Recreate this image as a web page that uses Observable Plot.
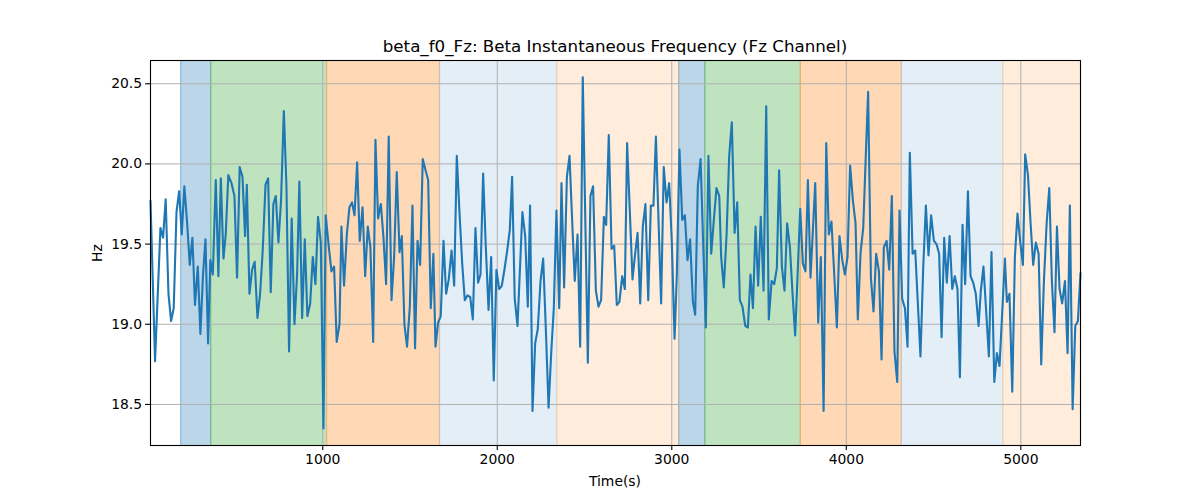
<!DOCTYPE html>
<html><head><meta charset="utf-8">
<script src="https://cdn.jsdelivr.net/npm/d3@7"></script>
<script src="https://cdn.jsdelivr.net/npm/@observablehq/plot@0.6"></script>
<style>
body{margin:0;background:#fff;}
#fig{position:relative;width:1200px;height:500px;background:#fff;font-family:"DejaVu Sans",sans-serif;color:#000;overflow:hidden;}
#title{position:absolute;left:0;width:1230px;top:36px;text-align:center;font-size:16.7px;line-height:20px;}
#xlabel{position:absolute;left:0;width:1230px;top:472px;text-align:center;font-size:13.9px;line-height:18px;}
#ylabel{position:absolute;left:97px;top:253px;font-size:13.9px;line-height:18px;transform:translate(-50%,-50%) rotate(-90deg);white-space:nowrap;}
#chart{position:absolute;left:0;top:35px;}
</style></head><body>
<div id="fig">
<div id="title">beta_f0_Fz: Beta Instantaneous Frequency (Fz Channel)</div>
<div id="chart"></div>
<div id="xlabel">Time(s)</div>
<div id="ylabel">Hz</div>
</div>
<script>
// Time (s) of each sample
const timeSec = [
  13, 39, 70, 85, 100, 116, 131, 146, 162, 177, 192, 207, 223, 238, 253, 268, 284, 299, 314, 328, 343, 356, 370, 387, 402, 416, 431, 444, 459, 477, 494, 509, 524, 540, 555,
  565, 580, 595, 610, 626, 641, 656, 672, 687, 702, 717, 731, 746, 761, 777, 792, 807, 822, 838, 853, 866, 882, 897, 912, 928, 943, 958, 973, 989, 1004, 1017, 1035, 1050, 1065, 1080, 1096,
  1107, 1122, 1138, 1153, 1168, 1182, 1197, 1212, 1228, 1243, 1258, 1273, 1289, 1302, 1317, 1333, 1348, 1363, 1378, 1394, 1409, 1424, 1440, 1453, 1468, 1483, 1499, 1514, 1529, 1543, 1558, 1573, 1589, 1604, 1619, 1634, 1646,
  1661, 1676, 1692, 1707, 1722, 1738, 1753, 1768, 1783, 1799, 1814, 1829, 1845, 1860, 1875, 1890, 1904, 1919, 1934, 1950, 1965, 1980, 1995, 2011, 2026, 2041, 2057, 2072, 2085, 2100, 2116, 2144, 2160, 2175, 2188,
  2202, 2217, 2232, 2248, 2263, 2278, 2294, 2309, 2324, 2339, 2355, 2368, 2383, 2399, 2414, 2429, 2444, 2460, 2475, 2490, 2519, 2534, 2549, 2565, 2580, 2595, 2611, 2624, 2639, 2655, 2670, 2685, 2700, 2716, 2731,
  2744, 2775, 2790, 2804, 2819, 2834, 2849, 2865, 2880, 2895, 2909, 2939, 2954, 2970, 2985, 3000, 3016, 3029, 3044, 3060, 3075, 3090, 3105, 3121, 3134, 3149, 3165, 3195, 3210, 3226, 3241, 3256, 3272,
  3283, 3298, 3314, 3329, 3344, 3360, 3375, 3390, 3405, 3421, 3436, 3451, 3465, 3480, 3495, 3510, 3526, 3541, 3556, 3572, 3587, 3602, 3615, 3631, 3646, 3661, 3677, 3692, 3707, 3736, 3751, 3766, 3780, 3795, 3822,
  3839, 3854, 3870, 3885, 3900, 3915, 3931, 3946, 3961, 3977, 3992, 4007, 4022, 4038, 4053, 4066, 4082, 4097, 4112, 4125, 4141, 4156, 4171, 4187, 4202, 4215, 4231, 4246, 4261, 4276, 4292, 4305, 4320, 4336, 4351, 4364,
  4380, 4395, 4410, 4425, 4441, 4456, 4471, 4486, 4502, 4517, 4532, 4546, 4561, 4576, 4592, 4607, 4622, 4637, 4651, 4666, 4681, 4697, 4712, 4727, 4742, 4758, 4771, 4786, 4817, 4832, 4848, 4863, 4878, 4909,
  4920, 4935, 4951, 4966, 4981, 4997, 5012, 5025, 5041, 5056, 5071, 5086, 5102, 5117, 5132, 5148, 5163, 5178, 5193, 5207, 5222, 5237, 5253, 5268, 5281, 5297, 5312, 5327, 5342
];
// Beta instantaneous frequency (Hz)
const freqHz = [
  19.77, 18.77, 19.60, 19.54, 19.78, 19.19, 19.02, 19.10, 19.70, 19.83, 19.56, 19.86, 19.63, 19.37, 19.54, 19.12, 19.36, 18.94, 19.31, 19.53, 18.88, 19.40, 19.31, 19.90, 19.30, 19.91, 19.41, 19.56, 19.93, 19.88, 19.80, 19.29, 19.98, 19.92, 19.55,
  19.87, 19.19, 19.34, 19.39, 19.04, 19.19, 19.46, 19.87, 19.91, 19.20, 19.75, 19.80, 19.51, 19.77, 20.33, 19.86, 18.83, 19.66, 19.00, 19.31, 19.89, 19.04, 19.53, 19.05, 19.13, 19.42, 19.25, 19.67, 19.51, 18.35, 19.68, 19.48, 19.33, 19.36, 18.89, 19.00,
  19.61, 19.24, 19.56, 19.73, 19.76, 19.68, 20.01, 19.52, 19.73, 19.30, 19.61, 19.48, 18.89, 20.15, 19.66, 19.75, 19.54, 19.25, 20.17, 19.15, 19.42, 19.95, 19.45, 19.55, 19.00, 18.86, 19.11, 19.74, 18.85, 19.52, 19.37, 20.03, 19.96, 19.90, 19.10, 19.44, 18.86,
  19.01, 19.05, 19.52, 19.19, 19.28, 19.46, 19.24, 20.05, 19.71, 19.38, 19.15, 19.18, 19.17, 19.03, 19.60, 19.26, 19.31, 19.94, 19.49, 19.09, 19.42, 18.65, 19.34, 19.22, 19.24, 19.34, 19.46, 19.59, 19.92, 19.16, 18.99, 19.70, 19.55, 19.11, 19.74,
  18.46, 18.88, 18.97, 19.27, 19.41, 18.98, 18.48, 18.82, 19.10, 19.71, 19.10, 19.88, 19.23, 19.92, 20.05, 19.65, 19.27, 19.56, 18.86, 20.54, 18.76, 19.80, 19.86, 19.21, 19.11, 19.15, 19.67, 19.62, 20.18, 19.47, 19.49, 19.12, 19.14, 19.30, 19.22,
  20.13, 19.28, 19.44, 19.57, 19.13, 19.61, 19.75, 19.15, 19.74, 19.74, 20.17, 19.13, 19.98, 19.76, 19.88, 19.52, 18.91, 19.31, 20.09, 19.65, 19.68, 19.40, 19.53, 19.14, 19.06, 19.86, 20.03, 18.98, 20.05, 19.44, 19.65, 19.85, 19.80,
  19.42, 19.23, 19.56, 20.05, 20.26, 19.57, 19.76, 19.15, 19.11, 18.99, 18.98, 19.31, 19.10, 19.61, 19.24, 19.67, 19.21, 20.36, 19.03, 19.27, 19.25, 19.35, 19.96, 19.36, 19.21, 19.63, 19.48, 19.19, 18.93, 19.72, 19.38, 19.33, 19.90, 19.29, 19.88,
  19.01, 19.42, 18.46, 20.13, 19.56, 19.64, 19.31, 18.98, 19.55, 19.40, 19.31, 19.42, 19.99, 19.77, 19.63, 19.03, 19.45, 19.60, 20.06, 20.45, 19.29, 19.08, 19.44, 19.33, 18.78, 19.48, 19.52, 19.34, 19.80, 18.83, 18.64, 19.71, 19.16, 19.10, 18.86, 20.07,
  19.44, 19.46, 19.13, 18.80, 19.36, 19.74, 19.43, 19.68, 19.52, 19.50, 19.44, 18.92, 19.54, 19.26, 19.55, 19.22, 19.30, 19.22, 18.67, 19.62, 19.25, 19.83, 19.30, 19.26, 19.19, 18.99, 19.21, 19.36, 18.80, 19.45, 18.64, 18.82, 18.74, 19.41,
  19.14, 19.19, 18.58, 19.42, 19.69, 19.51, 19.37, 20.06, 19.93, 19.63, 19.37, 19.51, 19.44, 18.75, 19.26, 19.63, 19.85, 19.27, 18.95, 19.61, 19.22, 19.13, 19.27, 18.82, 19.74, 18.47, 18.99, 19.02, 19.32
];
// Shaded phases
const spanStart = [186, 358, 1023, 1669, 2341, 3040, 3189, 3736, 4315, 4897];
const spanEnd   = [358, 1020, 1669, 2341, 3040, 3189, 3736, 4315, 4897, 5342];
const spanPhase = ["A", "B", "C", "D", "E", "A", "B", "C", "D", "E"];
// Axis ticks and limits
const xTicks = [1000, 2000, 3000, 4000, 5000];
const yTicks = [18.5, 19.0, 19.5, 20.0, 20.5];
const xLimits = [13, 5342];
const yLimits = [18.244, 20.645];

const phaseStyle = {
  A: {color: "#1f77b4", alpha: 0.3},
  B: {color: "#2ca02c", alpha: 0.3},
  C: {color: "#ff7f0e", alpha: 0.3},
  D: {color: "#1f77b4", alpha: 0.12},
  E: {color: "#ff7f0e", alpha: 0.15}
};

const spans = spanStart.map((s, i) => ({x1: s, x2: spanEnd[i], phase: spanPhase[i]}));
const series = timeSec.map((t, i) => ({t, v: freqHz[i]}));

const marks = [];
for (const [phase, st] of Object.entries(phaseStyle)) {
  const sub = spans.filter(d => d.phase === phase);
  marks.push(Plot.rect(sub, {x1: "x1", x2: "x2", y1: yLimits[0], y2: yLimits[1], fill: st.color, fillOpacity: st.alpha}));
  marks.push(Plot.ruleX(sub.flatMap(d => [d.x1, d.x2]), {stroke: st.color, strokeOpacity: st.alpha, strokeWidth: 1.2}));
}
marks.push(
  Plot.gridX(xTicks, {stroke: "#b0b0b0", strokeOpacity: 1, strokeWidth: 1}),
  Plot.gridY(yTicks, {stroke: "#b0b0b0", strokeOpacity: 1, strokeWidth: 1}),
  Plot.lineY(series, {x: "t", y: "v", stroke: "#1f77b4", strokeWidth: 2.1}),
  Plot.frame({stroke: "#000", strokeWidth: 1.1}),
  Plot.axisX(xTicks, {tickSize: 4.9, tickPadding: 3.5, tickFormat: d3.format("d"), label: null, fontSize: 13.9, strokeWidth: 1.1}),
  Plot.axisY(yTicks, {tickSize: 4.9, tickPadding: 3.5, tickFormat: d3.format(".1f"), label: null, fontSize: 13.9, strokeWidth: 1.1})
);

const chart = Plot.plot({
  width: 1200,
  height: 465,
  marginLeft: 150,
  marginRight: 120,
  marginTop: 25,
  marginBottom: 55,
  x: {domain: xLimits},
  y: {domain: yLimits},
  style: {fontFamily: "DejaVu Sans", fontSize: "13.9px", color: "#000", background: "transparent", overflow: "visible"},
  marks
});
document.getElementById("chart").appendChild(chart);
</script>
</body></html>
